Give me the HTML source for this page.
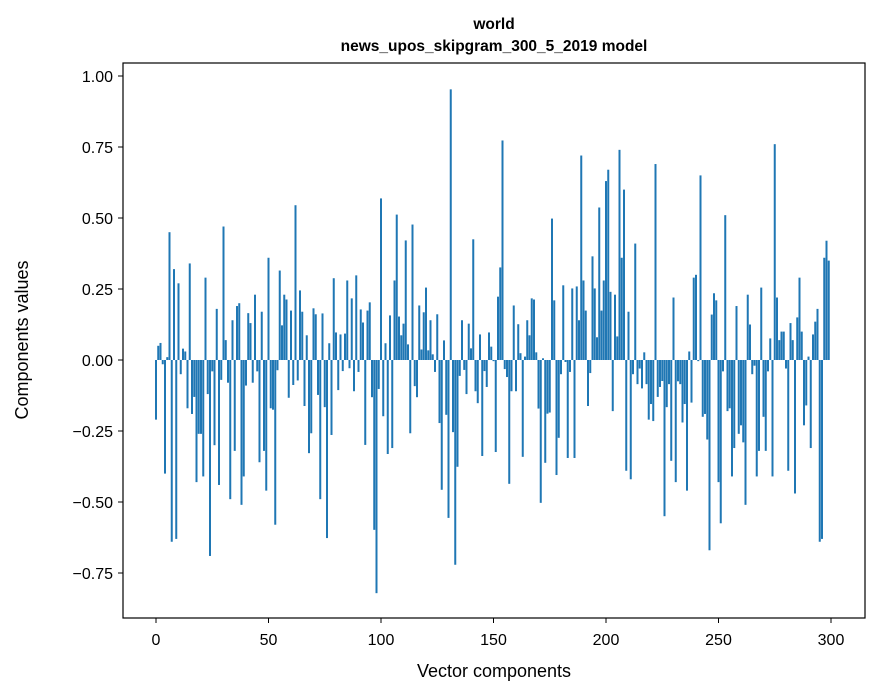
<!DOCTYPE html>
<html><head><meta charset="utf-8"><style>
html,body{margin:0;padding:0;background:#fff;}
svg{display:block;font-family:"Liberation Sans","DejaVu Sans",sans-serif;}
</style></head><body>
<svg id="chart" width="880" height="696" viewBox="0 0 880 696" xmlns="http://www.w3.org/2000/svg">
<rect x="0" y="0" width="880" height="696" fill="#fff"/>
<text x="494" y="29" text-anchor="middle" font-size="15.5" font-weight="bold">world</text>
<text x="494" y="51" text-anchor="middle" font-size="15.5" font-weight="bold">news_upos_skipgram_300_5_2019 model</text>
<g id="bars"></g>
<g id="axes"></g>
<rect x="123" y="63" width="742" height="555" fill="none" stroke="#000" stroke-width="1.2"/>
<text x="494" y="677" text-anchor="middle" font-size="18">Vector components</text>
<text x="28" y="340" text-anchor="middle" font-size="18" transform="rotate(-90 28 340)">Components values</text>
</svg>
<script>
const xTicks = [0,50,100,150,200,250,300];
const yTicks = [1.00,0.75,0.50,0.25,0.00,-0.25,-0.50,-0.75];
const yTickLabels = ["1.00","0.75","0.50","0.25","0.00","\u22120.25","\u22120.50","\u22120.75"];
const values = [
-0.21,0.05,0.06,-0.015,-0.40,0.01,0.45,-0.64,0.32,-0.63,0.27,-0.05,0.04,0.03,-0.17,0.34,-0.19,-0.13,-0.43,-0.26,-0.26,-0.41,0.29,-0.12,-0.69,-0.04,-0.30,0.18,-0.44,-0.07,0.47,0.07,-0.08,-0.49,0.14,-0.32,0.19,0.20,-0.51,-0.41,-0.09,0.165,0.13,-0.08,0.23,-0.04,-0.36,0.17,-0.32,-0.46,0.36,
-0.17,-0.175,-0.58,-0.036,0.315,0.122,0.23,0.213,-0.133,0.174,
-0.088,0.545,-0.072,0.245,0.17,-0.162,0.087,-0.328,-0.258,0.182,
0.161,-0.123,-0.49,0.164,-0.166,-0.627,0.059,-0.264,0.288,0.097,
-0.106,0.09,-0.039,0.093,0.28,-0.029,0.217,-0.11,0.298,-0.042,
0.178,0.132,-0.299,0.174,0.203,-0.131,-0.598,-0.821,-0.102,0.569,
-0.198,0.059,-0.331,0.157,-0.31,0.28,0.512,0.153,0.087,0.128,
0.421,0.055,-0.258,0.477,-0.092,-0.131,0.192,0.037,0.168,0.255,
0.034,0.14,0.02,-0.042,0.161,-0.222,-0.457,0.069,-0.193,-0.556,
0.953,-0.254,-0.721,-0.376,-0.056,0.14,-0.035,-0.12,0.128,0.041,
0.425,-0.11,-0.152,0.09,-0.338,-0.039,-0.095,0.097,0.047,-0.004,
-0.324,0.223,0.326,0.773,-0.032,-0.06,-0.436,-0.11,0.192,-0.11,
0.126,0.024,-0.341,0.012,0.14,0.087,0.217,0.213,0.027,-0.171,
-0.503,0.006,-0.362,-0.189,-0.185,0.498,0.21,-0.405,-0.274,-0.05,
0.263,-0.007,-0.345,-0.042,0.252,-0.345,0.259,0.14,0.72,0.28,
0.174,-0.162,-0.046,0.365,0.252,0.08,0.537,0.174,0.28,
0.63,0.67,0.24,-0.18,0.23,0.083,0.74,0.36,0.60,-0.39,
0.17,-0.42,-0.05,0.41,-0.085,-0.03,-0.10,0.027,-0.085,-0.21,
-0.155,-0.215,0.69,-0.13,-0.095,-0.074,-0.55,-0.166,-0.085,-0.355,
0.22,-0.43,-0.075,-0.085,-0.22,-0.155,-0.46,0.03,-0.15,0.29,
0.30,-0.004,0.65,-0.20,-0.19,-0.28,-0.67,0.16,0.235,0.21,
-0.43,-0.575,-0.04,0.51,-0.18,-0.17,-0.41,-0.31,0.19,-0.26,
-0.23,-0.29,-0.51,0.23,0.125,-0.05,-0.02,-0.41,-0.32,0.255,
-0.20,-0.32,-0.04,0.076,-0.41,0.76,0.22,0.07,0.10,0.10,
-0.03,-0.39,0.13,0.07,-0.47,0.15,0.29,0.10,-0.23,-0.16,
0.012,-0.31,0.09,0.135,0.18,-0.64,-0.63,0.36,0.42,0.35
];
const NS = "http://www.w3.org/2000/svg";
function xScale(i){ return 156 + 2.25*i; }
function yScale(v){ return 360 - 284*v; }
const bars = document.getElementById('bars');
values.forEach(function(v,i){
  const r = document.createElementNS(NS,'rect');
  const y0 = yScale(0), y1 = yScale(v);
  r.setAttribute('x', xScale(i) - 1.0);
  r.setAttribute('width', 2.0);
  r.setAttribute('y', Math.min(y0,y1));
  r.setAttribute('height', Math.max(Math.abs(y1-y0),0.5));
  r.setAttribute('fill', '#1f77b4');
  
  
  bars.appendChild(r);
});
const axes = document.getElementById('axes');
xTicks.forEach(function(t){
  const x = xScale(t);
  const l = document.createElementNS(NS,'line');
  l.setAttribute('x1',x);l.setAttribute('x2',x);l.setAttribute('y1',618);l.setAttribute('y2',623);
  l.setAttribute('stroke','#000');
  
  
  axes.appendChild(l);
  const tx = document.createElementNS(NS,'text');
  tx.setAttribute('x',x);tx.setAttribute('y',645);tx.setAttribute('text-anchor','middle');tx.setAttribute('font-size','16');
  tx.textContent = String(t);
  
  
  axes.appendChild(tx);
});
yTicks.forEach(function(t,k){
  const y = yScale(t);
  const l = document.createElementNS(NS,'line');
  l.setAttribute('x1',118);l.setAttribute('x2',123);l.setAttribute('y1',y);l.setAttribute('y2',y);
  l.setAttribute('stroke','#000');
  
  
  axes.appendChild(l);
  const tx = document.createElementNS(NS,'text');
  tx.setAttribute('x',113);tx.setAttribute('y',y+6);tx.setAttribute('text-anchor','end');tx.setAttribute('font-size','16');
  tx.textContent = yTickLabels[k];
  
  
  axes.appendChild(tx);
});
</script>
</body></html>
